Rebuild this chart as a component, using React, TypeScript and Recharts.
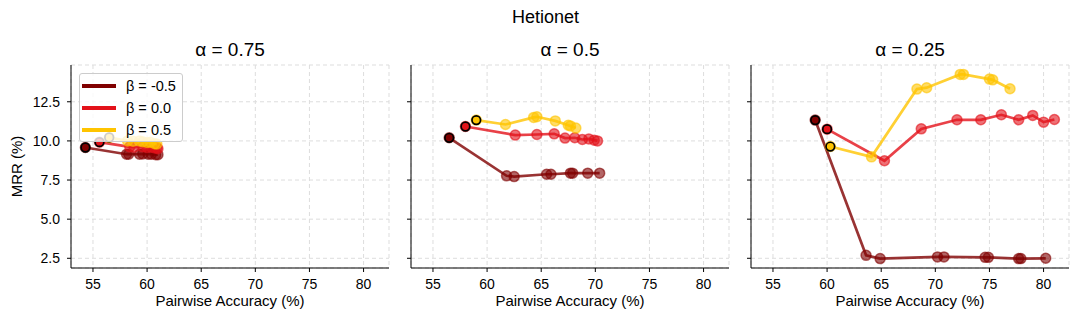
import { ComposedChart, Scatter, XAxis, YAxis, CartesianGrid } from 'recharts';

// x = pairwise accuracy (%), y = MRR (%)
const a075_neg_x = [54.3, 58.1, 58.3, 59.3, 59.6, 60.1, 60.4, 60.8, 61.0];
const a075_neg_y = [9.58, 9.15, 9.15, 9.15, 9.17, 9.15, 9.15, 9.12, 9.12];
const a075_zero_x = [55.6, 58.4, 58.8, 59.6, 60.0, 60.4, 60.7, 60.9, 61.0];
const a075_zero_y = [9.92, 9.62, 9.6, 9.62, 9.58, 9.6, 9.55, 9.57, 9.5];
const a075_pos_x = [56.5, 58.2, 58.7, 59.3, 59.6, 60.0, 60.3, 60.7, 60.9];
const a075_pos_y = [10.22, 10.0, 9.98, 10.0, 9.95, 9.9, 9.92, 9.82, 9.8];

const a05_neg_x = [56.5, 61.8, 62.5, 65.5, 65.9, 67.7, 67.9, 69.3, 70.4];
const a05_neg_y = [10.2, 7.77, 7.72, 7.87, 7.87, 7.94, 7.94, 7.94, 7.94];
const a05_zero_x = [58.0, 62.6, 64.6, 66.2, 67.2, 68.1, 68.8, 69.4, 69.9, 70.2];
const a05_zero_y = [10.92, 10.37, 10.41, 10.45, 10.18, 10.2, 10.09, 10.13, 10.05, 10.0];
const a05_pos_x = [59.0, 61.7, 64.3, 64.6, 66.3, 67.5, 67.7, 68.2];
const a05_pos_y = [11.33, 11.05, 11.5, 11.54, 11.28, 11.0, 10.96, 10.82];

const a025_neg_x = [58.9, 63.6, 64.9, 70.2, 70.8, 74.6, 74.9, 77.7, 77.9, 80.2];
const a025_neg_y = [11.33, 2.69, 2.48, 2.59, 2.59, 2.56, 2.56, 2.48, 2.48, 2.5];
const a025_zero_x = [60.0, 65.3, 68.7, 72.0, 74.2, 76.1, 77.7, 79.0, 80.0, 81.0];
const a025_zero_y = [10.75, 8.73, 10.77, 11.35, 11.35, 11.67, 11.35, 11.63, 11.2, 11.37];
const a025_pos_x = [60.3, 64.1, 68.3, 69.2, 72.3, 72.6, 75.0, 75.3, 76.9];
const a025_pos_y = [9.64, 8.98, 13.31, 13.4, 14.25, 14.25, 13.95, 13.9, 13.33];

const alphas = ['0.75', '0.5', '0.25'];
const betas = ['-0.5', '0.0', '0.5'];
const colors = ['#800000', '#e3121a', '#ffc400'];
const xTicks = [55, 60, 65, 70, 75, 80];
const yTicks = [2.5, 5, 7.5, 10, 12.5];

const panels = [
  [[a075_neg_x, a075_neg_y], [a075_zero_x, a075_zero_y], [a075_pos_x, a075_pos_y]],
  [[a05_neg_x, a05_neg_y], [a05_zero_x, a05_zero_y], [a05_pos_x, a05_pos_y]],
  [[a025_neg_x, a025_neg_y], [a025_zero_x, a025_zero_y], [a025_pos_x, a025_pos_y]],
];

const X_DOMAIN = [52.97, 82.35];
const Y_DOMAIN = [1.88, 14.85];
const FONT = '"Liberation Sans", Arial, sans-serif';
const TICK_FS = 14;

const toRows = (xs: number[], ys: number[]) => xs.map((x, i) => ({ x, y: ys[i] }));

const Dot = (color: string) => (props: any) => (
  <circle
    cx={props.cx}
    cy={props.cy}
    r={5}
    fill={color}
    fillOpacity={0.6}
    stroke={color}
    strokeOpacity={0.6}
    strokeWidth={1.5}
  />
);

const FirstDot = (color: string) => (props: any) => (
  <circle cx={props.cx} cy={props.cy} r={4.3} fill={color} stroke="#000" strokeWidth={1.7} />
);

const XTick = (props: any) => (
  <text x={props.x} y={props.y} dy="0.72em" textAnchor="middle" fontSize={TICK_FS} fontFamily={FONT} fill="#000">
    {props.payload.value}
  </text>
);

const YTick = (props: any) => (
  <text x={props.x} y={props.y} dy="0.36em" textAnchor="end" fontSize={TICK_FS} fontFamily={FONT} fill="#000">
    {Number(props.payload.value).toFixed(1)}
  </text>
);

const Panel = ({ idx }: { idx: number }) => {
  const series = panels[idx];
  const labelStyle = { fontSize: 15, fill: '#000', fontFamily: FONT };
  return (
    <div style={{ position: 'absolute', left: idx * 340, top: 0 }}>
      <ComposedChart width={400} height={324} margin={{ top: 65, right: 11, bottom: 0, left: 11 }}>
        <CartesianGrid stroke="#dddddd" strokeDasharray="4 3" />
        <XAxis
          dataKey="x"
          type="number"
          domain={X_DOMAIN}
          allowDataOverflow
          ticks={xTicks}
          height={56}
          tickSize={4}
          tickMargin={7}
          tick={<XTick />}
          stroke="#000"
          tickLine={{ stroke: '#000' }}
          label={{
            value: 'Pairwise Accuracy (%)',
            position: 'insideBottom',
            offset: 18,
            fontSize: 15,
            style: labelStyle,
          }}
        />
        <XAxis xAxisId="top" dataKey="x" type="number" orientation="top" domain={X_DOMAIN} allowDataOverflow height={0} tick={false} tickLine={false} stroke="#000" />
        <YAxis
          dataKey="y"
          type="number"
          domain={Y_DOMAIN}
          allowDataOverflow
          ticks={yTicks}
          width={60}
          tickSize={4}
          tickMargin={7}
          tick={idx === 0 ? <YTick /> : () => null}
          stroke="#000"
          tickLine={{ stroke: '#000' }}
          label={
            idx === 0
              ? {
                  value: 'MRR (%)',
                  angle: -90,
                  position: 'insideLeft',
                  offset: 6,
                  fontSize: 15,
                  style: { ...labelStyle, textAnchor: 'middle' },
                }
              : undefined
          }
        />
        <YAxis yAxisId="right" dataKey="y" type="number" orientation="right" domain={Y_DOMAIN} allowDataOverflow width={0} tick={false} tickLine={false} stroke="#000" />
        {series.map(([xs, ys], s) => (
          <Scatter
            key={'s' + s}
            data={toRows(xs, ys)}
            fill={colors[s]}
            line={{ stroke: colors[s], strokeWidth: 2.7, strokeOpacity: 0.8 }}
            shape={Dot(colors[s])}
            isAnimationActive={false}
          />
        ))}
        {series.map(([xs, ys], s) => (
          <Scatter
            key={'f' + s}
            data={toRows(xs.slice(0, 1), ys.slice(0, 1))}
            fill={colors[s]}
            shape={FirstDot(colors[s])}
            isAnimationActive={false}
          />
        ))}
      </ComposedChart>
      <div
        style={{
          position: 'absolute',
          left: 71,
          width: 318,
          top: 38,
          textAlign: 'center',
          fontFamily: FONT,
          fontSize: 19,
          lineHeight: '24px',
        }}
      >
        α = {alphas[idx]}
      </div>
    </div>
  );
};

const LegendBox = () => (
  <div
    style={{
      position: 'absolute',
      left: 79,
      top: 73,
      width: 102,
      height: 67,
      background: 'rgba(255,255,255,0.8)',
      border: '1px solid #cccccc',
      borderRadius: 3,
      fontFamily: FONT,
      fontSize: 14.5,
    }}
  >
    {betas.map((b, i) => (
      <div key={b} style={{ position: 'absolute', left: 2, top: 3 + i * 22, height: 18, display: 'flex', alignItems: 'center' }}>
        <div style={{ width: 34, height: 4, background: colors[i] }} />
        <span style={{ marginLeft: 10, whiteSpace: 'nowrap' }}>β = {b}</span>
      </div>
    ))}
  </div>
);

export default function App() {
  return (
    <div style={{ position: 'absolute', left: 0, top: 0, width: 1079, height: 324, background: '#fff' }}>
      <div
        style={{
          position: 'absolute',
          left: 0,
          width: 1091,
          top: 5,
          textAlign: 'center',
          fontFamily: FONT,
          fontSize: 18,
          lineHeight: '24px',
        }}
      >
        Hetionet
      </div>
      {[0, 1, 2].map((i) => (
        <Panel key={i} idx={i} />
      ))}
      <LegendBox />
    </div>
  );
}
